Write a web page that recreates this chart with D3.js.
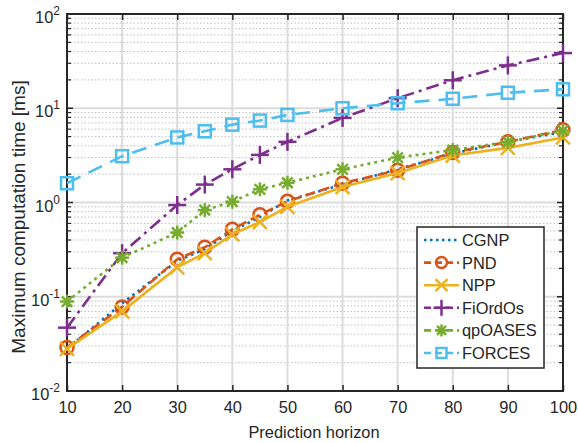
<!DOCTYPE html>
<html>
<head>
<meta charset="utf-8">
<script src="https://cdn.jsdelivr.net/npm/d3@7"></script>
<style>
  body { margin: 0; background: #fff; }
  svg { display: block; }
  text { font-family: "Liberation Sans", Arial, Helvetica, sans-serif; fill: #262626; }
</style>
</head>
<body>
<svg id="chart" width="578" height="443"></svg>
<script>
// Prediction horizons
const horizons = [10, 20, 30, 35, 40, 45, 50, 60, 70, 80, 90, 100];

// Maximum computation time [ms] per solver
const cgnp    = [0.028, 0.085, 0.24, 0.32, 0.50, 0.70, 1.05, 1.55, 2.25, 3.3, 4.4, 5.6];
const pnd     = [0.029, 0.078, 0.25, 0.335, 0.52, 0.74, 1.03, 1.6, 2.2, 3.4, 4.4, 5.9];
const npp     = [0.028, 0.070, 0.205, 0.29, 0.46, 0.62, 0.90, 1.46, 2.05, 3.15, 3.8, 4.9];
const fiordos = [0.047, 0.29, 0.94, 1.55, 2.25, 3.2, 4.4, 7.9, 12.8, 19.8, 28.5, 38.5];
const qpoases = [0.089, 0.26, 0.48, 0.83, 1.02, 1.38, 1.62, 2.25, 3.0, 3.6, 4.4, 5.8];
const forces  = [1.6, 3.1, 4.9, 5.7, 6.7, 7.4, 8.5, 10.0, 11.3, 12.6, 14.6, 15.9];

const seriesNames = ["CGNP", "PND", "NPP", "FiOrdOs", "qpOASES", "FORCES"];
const seriesData = [cgnp, pnd, npp, fiordos, qpoases, forces];

const xTicks = [10, 20, 30, 40, 50, 60, 70, 80, 90, 100];
const yDecades = [-2, -1, 0, 1, 2];

// Styling per series
const styles = [
  { color: "#0072BD", dash: "2.5,4",        marker: "none" },
  { color: "#D95319", dash: "10,5",         marker: "circle" },
  { color: "#EDB120", dash: null,           marker: "x" },
  { color: "#7E2F8E", dash: "13,5,3,5",     marker: "plus" },
  { color: "#77AC30", dash: "3,4",          marker: "star" },
  { color: "#4DBEEE", dash: "15,9",         marker: "square" }
];

const svg = d3.select("#chart");
const L = 67, R = 563, T = 14, B = 391;
const FS = 16.4;

const x = d3.scaleLinear().domain([10, 100]).range([L, R]);
const y = d3.scaleLog().domain([0.01, 100]).range([B, T]);

const gridColor = "#dcdcdc";
const axisColor = "#262626";

// Minor grid (dotted)
const minorVals = [];
for (let d = -2; d < 2; d++) {
  for (let m = 2; m <= 9; m++) minorVals.push(m * Math.pow(10, d));
}
svg.append("g").selectAll("line").data(minorVals).join("line")
  .attr("x1", L).attr("x2", R)
  .attr("y1", d => y(d)).attr("y2", d => y(d))
  .attr("stroke", "#bfbfbf").attr("stroke-width", 1)
  .attr("stroke-dasharray", "1.5,2");

// Major grid (solid)
svg.append("g").selectAll("line").data(yDecades.map(e => Math.pow(10, e))).join("line")
  .attr("x1", L).attr("x2", R)
  .attr("y1", d => y(d)).attr("y2", d => y(d))
  .attr("stroke", gridColor).attr("stroke-width", 2);
svg.append("g").selectAll("line").data(xTicks).join("line")
  .attr("x1", d => x(d)).attr("x2", d => x(d))
  .attr("y1", T).attr("y2", B)
  .attr("stroke", gridColor).attr("stroke-width", 2);

// Axes (ticks inward, box style)
const xAxisB = d3.axisBottom(x).tickValues(xTicks).tickSize(-6).tickPadding(10).tickFormat(d3.format("d"));
const gx = svg.append("g").attr("transform", `translate(0,${B})`).call(xAxisB);
gx.select(".domain").remove();
gx.selectAll(".tick line").attr("stroke", axisColor).attr("stroke-width", 1.5);
gx.selectAll("text").attr("font-size", FS).attr("fill", axisColor)
  .attr("font-family", "Liberation Sans, Arial, sans-serif");

const xAxisT = d3.axisTop(x).tickValues(xTicks).tickSize(-6).tickFormat("");
const gxt = svg.append("g").attr("transform", `translate(0,${T})`).call(xAxisT);
gxt.select(".domain").remove();
gxt.selectAll(".tick line").attr("stroke", axisColor).attr("stroke-width", 1.5);

// Y ticks: major and minor, left and right
const majorY = yDecades.map(e => Math.pow(10, e));
[[L, 1], [R, -1]].forEach(([x0, dir]) => {
  svg.append("g").selectAll("line").data(majorY).join("line")
    .attr("x1", x0).attr("x2", x0 + dir * 6)
    .attr("y1", d => y(d)).attr("y2", d => y(d))
    .attr("stroke", axisColor).attr("stroke-width", 1.5);
  svg.append("g").selectAll("line").data(minorVals).join("line")
    .attr("x1", x0).attr("x2", x0 + dir * 4)
    .attr("y1", d => y(d)).attr("y2", d => y(d))
    .attr("stroke", axisColor).attr("stroke-width", 1.2);
});

// Y tick labels 10^n
const yl = svg.append("g").selectAll("text").data(yDecades).join("text")
  .attr("x", L - 7)
  .attr("y", e => y(Math.pow(10, e)) + 9)
  .attr("text-anchor", "end")
  .attr("font-size", FS);
yl.append("tspan").text("10");
yl.append("tspan").attr("dy", -8).attr("font-size", 12).text(e => e);

// Box
svg.append("rect").attr("x", L).attr("y", T).attr("width", R - L).attr("height", B - T)
  .attr("fill", "none").attr("stroke", axisColor).attr("stroke-width", 2);

// Axis labels
svg.append("text").attr("x", (L + R) / 2 - 1).attr("y", 438).attr("text-anchor", "middle")
  .attr("font-size", FS).text("Prediction horizon");
svg.append("text").attr("transform", `translate(25,217) rotate(-90)`)
  .attr("text-anchor", "middle").attr("font-size", 19).text("Maximum computation time [ms]");

// Marker drawing
function drawMarker(g, type, color, cx, cy, s) {
  const h = s / 2;
  const a = g.append("g").attr("transform", `translate(${cx},${cy})`)
    .attr("stroke", color).attr("stroke-width", 2.5).attr("fill", "none");
  if (type === "circle") a.append("circle").attr("r", h - 0.5);
  else if (type === "square") a.append("rect").attr("x", -h + 1).attr("y", -h + 1).attr("width", s - 2).attr("height", s - 2);
  else if (type === "x") {
    a.append("line").attr("x1", -h).attr("y1", -h).attr("x2", h).attr("y2", h);
    a.append("line").attr("x1", -h).attr("y1", h).attr("x2", h).attr("y2", -h);
  } else if (type === "plus") {
    a.append("line").attr("x1", -h - 2).attr("y1", 0).attr("x2", h + 2).attr("y2", 0);
    a.append("line").attr("x1", 0).attr("y1", -h - 2).attr("x2", 0).attr("y2", h + 2);
  } else if (type === "star") {
    a.append("line").attr("x1", -h).attr("y1", 0).attr("x2", h).attr("y2", 0);
    a.append("line").attr("x1", 0).attr("y1", -h).attr("x2", 0).attr("y2", h);
    const k = h * 0.75;
    a.append("line").attr("x1", -k).attr("y1", -k).attr("x2", k).attr("y2", k);
    a.append("line").attr("x1", -k).attr("y1", k).attr("x2", k).attr("y2", -k);
  }
}

const line = d3.line().x((d, i) => x(horizons[i])).y(d => y(d));
const plot = svg.append("g");
seriesData.forEach((vals, si) => {
  const st = styles[si];
  plot.append("path").datum(vals).attr("d", line)
    .attr("fill", "none").attr("stroke", st.color).attr("stroke-width", 2.6)
    .attr("stroke-dasharray", st.dash);
  if (st.marker !== "none") {
    vals.forEach((v, i) => drawMarker(plot, st.marker, st.color, x(horizons[i]), y(v), 14));
  }
});

// Legend
const lgX = 417, lgY = 227, lgW = 127, lgH = 141;
const lg = svg.append("g");
lg.append("rect").attr("x", lgX).attr("y", lgY).attr("width", lgW).attr("height", lgH)
  .attr("fill", "#fff").attr("stroke", axisColor).attr("stroke-width", 1.5);
seriesNames.forEach((name, i) => {
  const st = styles[i];
  const cy = 240 + i * 22.6;
  lg.append("line").attr("x1", 424).attr("x2", 459).attr("y1", cy).attr("y2", cy)
    .attr("stroke", st.color).attr("stroke-width", 2.6)
    .attr("stroke-dasharray", st.dash ? (st.marker === "none" ? "2.5,3.5" : "7,4") : null);
  if (st.marker !== "none") drawMarker(lg, st.marker, st.color, 441.5, cy, 12);
  lg.append("text").attr("x", 462).attr("y", cy + 6).attr("font-size", FS).text(name);
});
</script>
</body>
</html>
